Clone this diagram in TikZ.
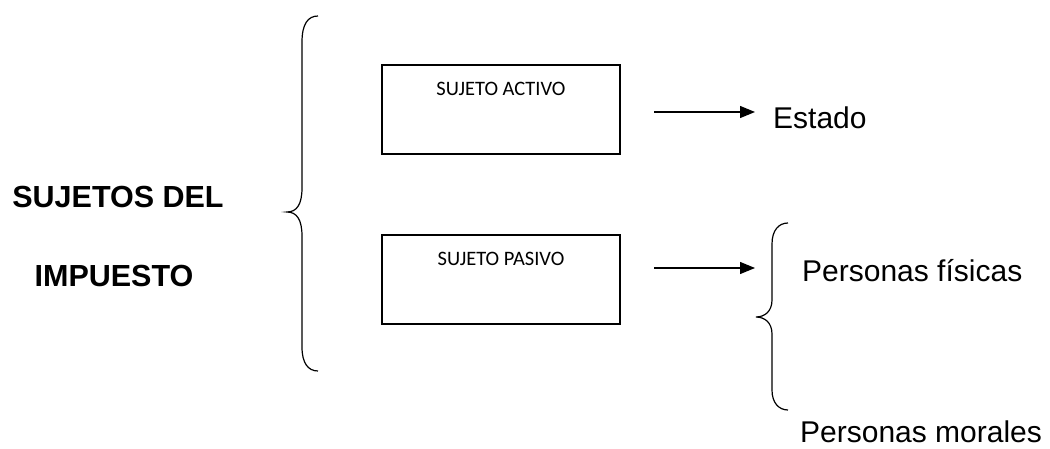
\documentclass[tikz,border=0pt]{standalone}
\usepackage{fontspec}
\setmainfont{Liberation Sans}
\newfontfamily\boxfont{Carlito}
\usetikzlibrary{arrows.meta}
\tikzset{
  box/.style={draw, line width=1.2pt, minimum width=238pt, minimum height=89pt, inner sep=0pt},
  boxlabel/.style={anchor=base, inner sep=0pt, font=\boxfont\fontsize{20.5}{24}\selectfont},
  item/.style={anchor=base west, inner sep=0pt, font=\fontsize{30}{36}\selectfont},
  title/.style={anchor=base, inner sep=0pt, font=\bfseries\fontsize{30.5}{36}\selectfont},
  brace/.style={line width=1.2pt},
  link/.style={line width=1.2pt, -{Triangle[length=15pt,width=12pt]}}
}
\begin{document}
\begin{tikzpicture}[x=1pt, y=-1pt]
  \useasboundingbox (0,0) rectangle (1050,449);

  % heading on the left
  \node[title] (t1) at (118,208) {SUJETOS DEL};
  \node[title] (t2) at (114,287) {IMPUESTO};

  % main brace
  \draw[brace] (318,16) .. controls (308,16) and (302,24) .. (302,42)
    -- (302,188) .. controls (302,204) and (297,212) .. (287,212)
    .. controls (297,212) and (302,220) .. (302,236)
    -- (302,347) .. controls (302,363) and (308,371) .. (318,371);

  % the two kinds of subject
  \node[box] (act) at (501,109.5) {};
  \node[boxlabel] (actl) at ([yshift=-31pt]act.north) {SUJETO ACTIVO};
  \node[box] (pas) at (501,279.5) {};
  \node[boxlabel] (pasl) at ([yshift=-31pt]pas.north) {SUJETO PASIVO};

  % arrows and what they point to
  \coordinate (a1) at (654,112);
  \coordinate (a1e) at (755,112);
  \coordinate (a2) at (654,268);
  \coordinate (a2e) at (755,268);
  \draw[link] (a1) -- (a1e);
  \draw[link] (a2) -- (a2e);

  \node[item] (est) at (773,129) {Estado};
  \node[item] (fis) at (802,282) {Personas físicas};
  \node[item] (mor) at (800,442) {Personas morales};

  % second brace
  \draw[brace] (788,223) .. controls (779,223) and (772,230) .. (772,244)
    -- (772,300) .. controls (772,311) and (765,317) .. (756,317)
    .. controls (765,317) and (772,323) .. (772,334)
    -- (772,390) .. controls (772,403) and (779,410) .. (788,410);
\end{tikzpicture}
\end{document}
